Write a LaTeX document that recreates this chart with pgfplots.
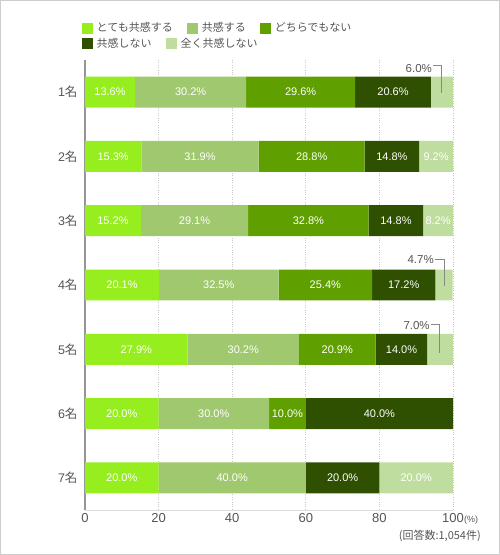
\documentclass[border=0pt]{standalone}
\usepackage{fontspec}
\setmainfont{Liberation Sans}
\newfontfamily\jp{Noto Sans CJK JP}
\usepackage{pgfplots}
\pgfplotsset{compat=1.18}
\definecolor{c1}{RGB}{150,238,30}
\definecolor{c2}{RGB}{160,200,110}
\definecolor{c3}{RGB}{95,160,0}
\definecolor{c4}{RGB}{47,80,0}
\definecolor{c5}{RGB}{192,221,160}
\definecolor{txt}{RGB}{85,85,85}
\definecolor{frame}{RGB}{205,205,205}
\pgfplotsset{
  base/.style={at={(85pt,45pt)}, anchor=south west, scale only axis,
    width=368pt, height=450pt, xmin=0, xmax=100, ymin=0.5, ymax=7.5, y dir=reverse,
    /pgf/number format/assume math mode=true},
  sq/.style={legend image code/.code={\fill[##1] (0pt,-5.5pt) rectangle (11pt,5.5pt);}},
  mylegend/.style={legend columns=-1,
    legend style={draw=none, fill=none, inner sep=0pt, anchor=west,
      font=\fontsize{11}{13}\selectfont\jp, text=txt,
      nodes={inner sep=0.5pt},
      /tikz/every odd column/.style={column sep=3pt},
      /tikz/every even column/.style={column sep=14pt}}},
}
\pgfplotstableread{
x y v
6.8 1 13.6
28.7 1 30.2
58.6 1 29.6
83.7 1 20.6
7.65 2 15.3
31.25 2 31.9
61.6 2 28.8
83.4 2 14.8
95.4 2 9.2
7.6 3 15.2
29.75 3 29.1
60.7 3 32.8
84.5 3 14.8
95.95 3 8.2
10.05 4 20.1
36.35 4 32.5
65.3 4 25.4
86.6 4 17.2
13.95 5 27.9
43.0 5 30.2
68.55 5 20.9
86.0 5 14.0
10 6 20.0
35 6 30.0
55 6 10.0
80 6 40.0
10 7 20.0
40 7 40.0
70 7 20.0
90 7 20.0
}\inlabels
\pgfplotstableread{
x y v
94.6 0.627 6.0
95.1 3.61 4.7
94.0 4.627 7.0
}\outlabels
\begin{document}
\begin{tikzpicture}
\useasboundingbox (0pt,0pt) rectangle (500pt,555pt);
\draw[frame, line width=1pt] (0.5pt,0.5pt) rectangle (499.5pt,554.5pt);
\begin{axis}[base, mylegend,
  legend style={at={(axis description cs:0,1)}, xshift=-3pt, yshift=32pt},
  xbar stacked, bar width=0.482,
  axis x line*=bottom, axis y line*=left,
  x axis line style={-, draw={rgb,255:red,221;green,221;blue,221}, line width=1pt},
  y axis line style={-, draw={rgb,255:red,150;green,150;blue,150}, line width=2pt},
  xtick={0,20,40,60,80,100}, ytick={1,2,3,4,5,6,7},
  yticklabels={1{\jp 名},2{\jp 名},3{\jp 名},4{\jp 名},5{\jp 名},6{\jp 名},7{\jp 名}},
  major tick length=0pt,
  xticklabel style={font=\fontsize{13}{15}\selectfont, text=txt},
  yticklabel style={font=\fontsize{12.5}{15}\selectfont, text=txt, xshift=-4pt},
  xmajorgrids, major grid style={dotted, line width=1pt, draw={rgb,255:red,200;green,200;blue,200}},
  legend entries={とても共感する,共感する,どちらでもない},
]
\addplot[sq, fill=c1, draw=none] coordinates {(13.6,1) (15.3,2) (15.2,3) (20.1,4) (27.9,5) (20.0,6) (20.0,7)};
\addplot[sq, fill=c2, draw=none] coordinates {(30.2,1) (31.9,2) (29.1,3) (32.5,4) (30.2,5) (30.0,6) (40.0,7)};
\addplot[sq, fill=c3, draw=none] coordinates {(29.6,1) (28.8,2) (32.8,3) (25.4,4) (20.9,5) (10.0,6) (0,7)};
\addplot[sq, fill=c4, draw=none] coordinates {(20.6,1) (14.8,2) (14.8,3) (17.2,4) (14.0,5) (40.0,6) (20.0,7)};
\addplot[sq, fill=c5, draw=none] coordinates {(6.0,1) (9.2,2) (8.2,3) (4.7,4) (7.0,5) (0,6) (20.0,7)};
\end{axis}
\begin{axis}[base, mylegend, hide axis, clip=false,
  legend style={at={(axis description cs:0,1)}, xshift=-3pt, yshift=16.5pt}]
\addlegendimage{sq, fill=c4, draw=none}
\addlegendentry{共感しない}
\addlegendimage{sq, fill=c5, draw=none}
\addlegendentry{全く共感しない}
\addplot[forget plot, only marks, mark=none, point meta=explicit,
  nodes near coords={\pgfmathprintnumber[fixed, fixed zerofill, precision=1, assume math mode=true]{\pgfplotspointmeta}\%},
  every node near coord/.style={anchor=center, text=white, font=\fontsize{11}{13}\selectfont}]
  table[x=x, y=y, meta=v] {\inlabels};
\addplot[forget plot, only marks, mark=none, point meta=explicit,
  nodes near coords={\pgfmathprintnumber[fixed, fixed zerofill, precision=1, assume math mode=true]{\pgfplotspointmeta}\%},
  every node near coord/.style={anchor=east, inner sep=1pt, text=txt, font=\fontsize{11.5}{13}\selectfont}]
  table[x=x, y=y, meta=v] {\outlabels};
\addplot[forget plot, draw={rgb,255:red,136;green,136;blue,136}, line width=0.7pt, mark=none] coordinates {(94.6,0.585) (96.9,0.585) (96.9,1.015)};
\addplot[forget plot, draw={rgb,255:red,136;green,136;blue,136}, line width=0.7pt, mark=none] coordinates {(95.1,3.595) (97.55,3.595) (97.55,4.015)};
\addplot[forget plot, draw={rgb,255:red,136;green,136;blue,136}, line width=0.7pt, mark=none] coordinates {(94.0,4.61) (96.2,4.61) (96.2,5.06)};
\end{axis}
\node[anchor=west, inner sep=0pt, text=txt, font=\fontsize{9}{11}\selectfont] at (464pt,35pt) {(\%)};
\node[anchor=east, inner sep=0pt, text=txt, font=\fontsize{11}{13}\selectfont\jp] at (481pt,19pt) {(回答数:1,054件)};
\end{tikzpicture}
\end{document}
